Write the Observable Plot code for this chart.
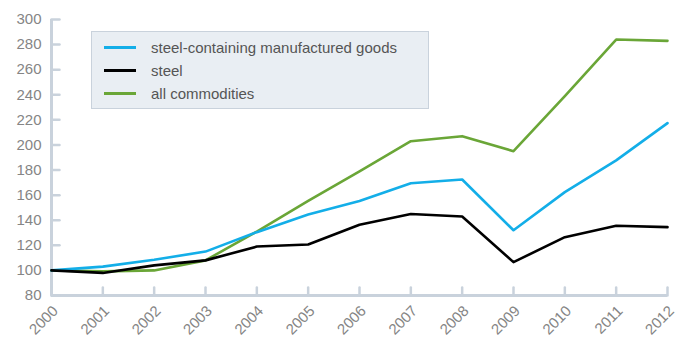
<!DOCTYPE html>
<html>
<head>
<meta charset="utf-8">
<script src="https://cdn.jsdelivr.net/npm/d3@7"></script>
<script src="https://cdn.jsdelivr.net/npm/@observablehq/plot@0.6"></script>
<style>
  body { margin: 0; background: #fff; font-family: "Liberation Sans", Arial, sans-serif; }
  #wrap { position: relative; width: 680px; height: 338px; }
  #legend {
    position: absolute; left: 91px; top: 31px; width: 338px; height: 78px;
    box-sizing: border-box; background: #e9eef3; border: 1.5px solid #c9d2dc;
    padding: 4px 0 0 12px;
  }
  .row { display: flex; align-items: center; height: 23px; font-size: 15px; color: #555; }
  .sw { width: 32px; height: 3px; margin-right: 15px; }
</style>
</head>
<body>
<div id="wrap"><div id="legend"></div></div>
<script>
const years = [2000, 2001, 2002, 2003, 2004, 2005, 2006, 2007, 2008, 2009, 2010, 2011, 2012];
const seriesNames = ["steel-containing manufactured goods", "steel", "all commodities"];
const manufactured = [100, 103, 108.5, 115, 130.5, 144.5, 155.3, 169.5, 172.5, 132, 162.4, 187.7, 217.4];
const steel = [100, 98, 104, 108, 119, 120.7, 136.4, 145, 143, 106.6, 126.5, 135.6, 134.5];
const allCommodities = [100, 99.2, 100, 108, 131, 155.5, 179, 203, 207, 195, 239, 284, 283];
const yTicks = [80, 100, 120, 140, 160, 180, 200, 220, 240, 260, 280, 300];

const colors = {
  "steel-containing manufactured goods": "#13aee8",
  "steel": "#000000",
  "all commodities": "#6aa637"
};
const axisColor = "#c9d2dc";
const labelColor = "#858585";

const rows = [];
[["all commodities", allCommodities], ["steel-containing manufactured goods", manufactured], ["steel", steel]]
  .forEach(([name, vals]) => vals.forEach((v, i) => rows.push({year: years[i], value: v, series: name})));

const tickShape = {draw(ctx, l) { ctx.moveTo(0, 0); ctx.lineTo(0, -l); }};

const chart = Plot.plot({
  width: 680, height: 338,
  marginLeft: 51, marginRight: 13, marginTop: 19, marginBottom: 43,
  style: {fontFamily: "'Liberation Sans', Arial, sans-serif", fontSize: "15px", color: labelColor, background: "#fff", overflow: "visible"},
  x: {domain: [2000, 2012]},
  y: {domain: [80, 300]},
  marks: [
    Plot.ruleY([80], {stroke: axisColor, strokeWidth: 3}),
    Plot.ruleX([2000], {stroke: axisColor, strokeWidth: 3}),
    Plot.vector(yTicks, {y: d => d, frameAnchor: "left", length: 8, rotate: 90, anchor: "start", shape: tickShape, stroke: axisColor, strokeWidth: 2.5}),
    Plot.vector(years, {x: d => d, frameAnchor: "bottom", length: 8, rotate: 0, anchor: "start", shape: tickShape, stroke: axisColor, strokeWidth: 2.5}),
    Plot.axisY(yTicks, {tickSize: 0, tickPadding: 10, label: null, fill: labelColor}),
    Plot.axisX(years, {tickSize: 0, tickPadding: 6, dx: 4, dy: 7, tickRotate: -45, tickFormat: d => String(d), label: null, fill: labelColor}),
    Plot.line(rows, {x: "year", y: "value", z: "series", stroke: d => colors[d.series], strokeWidth: 2.6})
  ]
});
document.getElementById("wrap").prepend(chart);

const legend = document.getElementById("legend");
seriesNames.forEach(name => {
  const r = document.createElement("div");
  r.className = "row";
  const sw = document.createElement("span");
  sw.className = "sw";
  sw.style.background = colors[name];
  const t = document.createElement("span");
  t.textContent = name;
  r.append(sw, t);
  legend.append(r);
});
</script>
</body>
</html>
